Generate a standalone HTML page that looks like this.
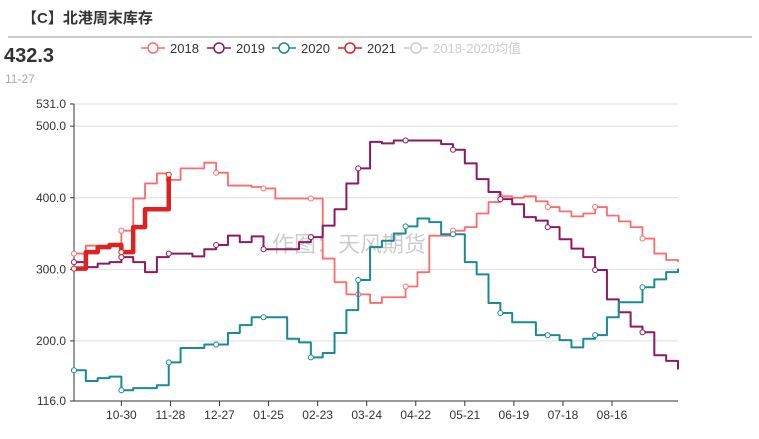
<!DOCTYPE html>
<html><head><meta charset="utf-8">
<style>
body{margin:0;width:759px;height:434px;background:#fff;overflow:hidden;font-family:"Liberation Sans","Noto Sans CJK SC",sans-serif;}
svg text{font-family:"Liberation Sans","Noto Sans CJK SC",sans-serif;}
</style></head>
<body>
<svg id="chart" width="759" height="434" xmlns="http://www.w3.org/2000/svg">
<text x="22" y="23" font-size="15" font-weight="bold" fill="#333">【C】北港周末库存</text>
<line x1="8" y1="37" x2="752" y2="37" stroke="#999" stroke-width="1"/>
<text x="4" y="62" font-size="20" font-weight="bold" fill="#333">432.3</text>
<text x="5" y="83" font-size="12" fill="#aaa">11-27</text>
<text x="272" y="252" font-size="22" fill="#000" fill-opacity="0.2">作图：天风期货</text>
<g id="legend"></g>
<g id="grid"></g>
<g id="series"></g>
</svg>
<script>
const tickLabels=["10-30","11-28","12-27","01-25","02-23","03-24","04-22","05-21","06-19","07-18","08-16"];
const yTicks=[116,200,300,400,500,531];
const legendNames=["2018","2019","2020","2021","2018-2020均值"];
const s2018=[322,333,333,333,354,399,420,434,425,441,441,449,435,417,417,415,413,399,399,399,399,315,282,265,265,253,261,261,276,296,347,347,354,359,378,394,402,400,402,395,387,381,374,378,387,375,367,359,343,322,313,310];
const s2019=[310,303,308,310,317,310,296,317,322,322,318,328,334,347,338,346,328,328,328,338,345,361,384,420,441,478,476,480,480,480,480,475,467,448,426,408,398,391,373,368,359,342,329,317,299,258,240,220,212,180,172,160];
const s2020=[159,144,148,150,131,134,134,138,170,190,190,195,195,211,222,233,233,233,203,198,177,183,211,243,285,331,340,350,360,371,366,349,349,310,293,253,239,226,226,208,208,201,191,203,208,233,254,254,275,286,296,301];
const s2021=[301,324,331,334,324,359,384,384,432.3];
const NS="http://www.w3.org/2000/svg";
const X0=74,X1=678,Y0=401,Y1=104,N=52;
function xs(i){return X0+i*(X1-X0)/(N-1);}
function ys(v){return Y0-(v-116)/(531-116)*(Y0-Y1);}
function mk(tag,attrs,parent){const e=document.createElementNS(NS,tag);for(const k in attrs)e.setAttribute(k,attrs[k]);parent.appendChild(e);return e;}
const grid=document.getElementById('grid');
yTicks.forEach(v=>{
  const y=ys(v);
  const gl=mk('line',{x1:X0,x2:X1,y1:y,y2:y,stroke:'#ddd','stroke-width':1},grid);
  
  
  const t=mk('text',{x:66,y:y+4,'font-size':12,fill:'#333','text-anchor':'end'},grid);
  t.textContent=v.toFixed(1);
  
  
  mk('line',{x1:X0-4,x2:X0,y1:y,y2:y,stroke:'#333'},grid);
});
const ya=mk('line',{x1:X0,x2:X0,y1:Y1,y2:Y0,stroke:'#333','stroke-width':1},grid);


const xa=mk('line',{x1:X0,x2:X1,y1:Y0,y2:Y0,stroke:'#333','stroke-width':1},grid);


const tickIdx=tickLabels.map((_,k)=>4+k*29/7);
tickLabels.forEach((l,k)=>{
  const x=xs(tickIdx[k]);
  mk('line',{x1:x,x2:x,y1:Y0,y2:Y0+5,stroke:'#333'},grid);
  const t=mk('text',{x:x,y:Y0+18,'font-size':12,fill:'#333','text-anchor':'middle'},grid);
  t.textContent=l;
  
  
});
const colors=['#ff6b6b','#8b1a62','#1a8a94','#dd2222','#ccc'];
const ser=document.getElementById('series');
function stepPath(d,full){
  let p='M'+xs(0)+','+ys(d[0]);
  for(let i=1;i<d.length;i++){p+=' L'+xs(i)+','+ys(d[i-1])+' L'+xs(i)+','+ys(d[i]);}
  if(full)p+=' L'+X1+','+ys(d[d.length-1]);
  return p;
}
function drawSeries(d,c,w,name,full){
  const p=mk('path',{d:stepPath(d,full),fill:'none',stroke:c,'stroke-width':w,'stroke-linejoin':'round'},ser);
  
  
  for(let i=0;i<d.length;i+=4){
    const m=mk('circle',{cx:xs(i),cy:ys(d[i]),r:2.5,fill:'#fff',stroke:c,'stroke-width':1},ser);
    
    
  }
}
drawSeries(s2018,colors[0],1.8,'series-2018',true);
drawSeries(s2019,colors[1],2,'series-2019',true);
drawSeries(s2020,colors[2],2,'series-2020',true);
drawSeries(s2021,colors[3],4.5,'series-2021',false);
const lg=document.getElementById('legend');
const lx=[141,207,272,338,404];
legendNames.forEach((n,k)=>{
  const g=mk('g',{},lg);
  
  
  mk('line',{x1:lx[k],x2:lx[k]+24,y1:48,y2:48,stroke:colors[k],'stroke-width':1.5},g);
  mk('circle',{cx:lx[k]+12,cy:48,r:5,fill:'#fff',stroke:colors[k],'stroke-width':1.5},g);
  const t=mk('text',{x:lx[k]+29,y:53,'font-size':13,fill:k==4?'#ccc':'#333'},g);
  t.textContent=n;
});
</script>
</body></html>
